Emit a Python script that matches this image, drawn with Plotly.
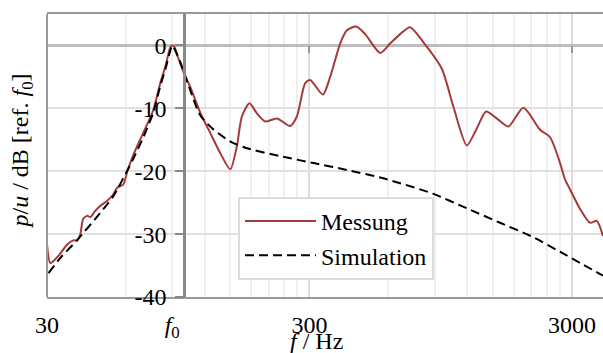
import math
import plotly.graph_objects as go

# ---------------- data ----------------
mess_f = [30.0, 30.9, 33.1, 35.9, 37.8, 39.1, 40.2, 41.2, 42.7, 43.9, 45.4, 47.9, 50.9,
          53.6, 55.6, 58.6, 60.7, 64.0, 69.8, 76.2, 81.0, 84.7, 88.5, 90.0, 91.6, 94.1,
          96.5, 100.0, 105.4, 115.1, 125.6, 137.1, 149.7, 158.7, 165.8, 177.3, 189.2,
          203.5, 225.4, 253.4, 268.6, 288.9, 301.8, 337.4, 359.8, 392.7, 416.5, 451.8,
          489.1, 557.8, 608.6, 664.6, 725.3, 815.5, 957.9, 1060, 1193, 1302, 1413,
          1551, 1718, 1959, 2268, 2476, 2703, 2824, 2951, 3222, 3517, 3729, 3939]
mess_db = [-31.6, -34.6, -33.5, -31.6, -31.0, -31.0, -30.0, -27.6, -27.1, -27.3, -26.5,
           -25.5, -24.7, -23.7, -22.6, -22.1, -20.0, -17.4, -13.9, -10.3, -6.0, -3.4,
           -0.3, 0.0, -0.2, -1.6, -2.8, -4.6, -6.6, -10.7, -13.9, -17.1, -19.7, -16.0,
           -11.3, -9.2, -10.8, -12.1, -11.6, -12.8, -11.3, -6.0, -5.5, -7.8, -5.0, 0.3,
           2.4, 3.0, 1.8, -1.2, 0.3, 1.8, 2.9, 0.5, -3.7, -9.7, -15.9, -13.2, -10.5,
           -11.6, -12.9, -9.9, -13.4, -14.6, -18.7, -21.3, -22.9, -26.0, -28.2, -27.9,
           -30.3]

sim_f = [30.4, 33.7, 39.0, 47.9, 53.6, 60.5, 64.0, 70.0, 76.0, 81.0, 85.0, 88.5, 90.0,
         92.0, 96.5, 105.4, 115.0, 128.0, 150.0, 172.0, 232.0, 311.0, 416.5, 557.8,
         664.6, 890.0, 1193, 1597, 2139, 2865, 3939]
sim_db = [-36.2, -33.8, -31.0, -26.6, -24.0, -20.0, -18.0, -14.5, -10.8, -6.5, -3.6,
          -0.8, 0.0, -0.6, -2.6, -7.1, -11.1, -13.2, -15.3, -16.3, -17.6, -18.7, -19.8,
          -21.0, -21.9, -23.6, -25.9, -28.2, -30.5, -33.4, -36.6]

x_range_hz = [30, 3940]
y_range_db = [-40, 5]
f0 = 90
y_axis_at_hz = 100
major_x = [30, 300, 3000]
label_x = [30, f0, 300, 3000]
label_x_text = ["30", "<i>f</i><sub>0</sub>", "300", "3000"]
minor_x = [b * k for b in (30, 300, 3000) for k in range(2, 10)]
y_ticks = [-40, -30, -20, -10, 0]
y_tick_text = ["-40", "-30", "-20", "-10", "0"]

# ---------------- layout ----------------
W, H = 603, 353
ML, MR, MT, MB = 47, 0, 14, 56
FONT = "Liberation Serif, Times New Roman, serif"
RED = "#a33b3b"

pw = W - ML - MR
ph = H - MT - MB

lx0, lx1 = math.log10(x_range_hz[0]), math.log10(x_range_hz[1])
yline_frac = (math.log10(y_axis_at_hz) - lx0) / (lx1 - lx0)
ylabel_frac = yline_frac - 7 / pw          # label column sits a little left of the axis line
xpos_frac = (0 - y_range_db[0]) / (y_range_db[1] - y_range_db[0])

fig = go.Figure()
fig.add_trace(go.Scatter(x=mess_f, y=mess_db, mode="lines", name="Messung",
                         line=dict(color=RED, width=2, shape="spline", smoothing=0.7)))
fig.add_trace(go.Scatter(x=sim_f, y=sim_db, mode="lines", name="Simulation",
                         xaxis="x2", yaxis="y2",
                         line=dict(color="black", width=2, dash="9px,5px",
                                   shape="spline", smoothing=0.7)))

fig.update_layout(
    width=W, height=H,
    margin=dict(l=ML, r=MR, t=MT, b=MB, pad=0),
    paper_bgcolor="white", plot_bgcolor="white",
    font=dict(family=FONT, size=24, color="black"),
    showlegend=True,
    legend=dict(x=(238 - ML) / pw, y=(H - MB - 197) / ph, xanchor="left", yanchor="top",
                bgcolor="white", bordercolor="#dcdcdc", borderwidth=2,
                font=dict(family=FONT, size=24, color="black"), itemwidth=71,
                tracegroupgap=0),
    xaxis=dict(type="log", range=[lx0, lx1], anchor="free", position=xpos_frac,
               tickvals=major_x, showticklabels=False, ticks="outside", ticklen=7,
               tickwidth=2, tickcolor="#999999", showgrid=True, gridcolor="#dcdcdc",
               gridwidth=2, showline=False, zeroline=False,
               minor=dict(tickvals=minor_x, showgrid=True, gridcolor="#efefef",
                          gridwidth=2, ticks="")),
    xaxis2=dict(type="log", range=[lx0, lx1], overlaying="x", anchor="y", side="bottom",
                tickvals=label_x, ticktext=label_x_text, showgrid=False, showline=True,
                mirror=True, linecolor="#999999", linewidth=2, ticks="",
                ticklabelstandoff=5, zeroline=False,
                tickfont=dict(family=FONT, size=24, color="black")),
    # grid, zero line and tick labels
    yaxis=dict(range=y_range_db, anchor="free", position=ylabel_frac, tickvals=y_ticks,
               ticktext=y_tick_text, ticks="outside", ticklen=8, tickwidth=2,
               tickcolor="rgba(0,0,0,0)", showline=False,
               showgrid=True, gridcolor="#e0e0e0", gridwidth=2, zeroline=True,
               zerolinecolor="#bdbdbd", zerolinewidth=3, ticklabelstandoff=-2,
               tickfont=dict(family=FONT, size=24, color="black")),
    # visible axis line with its ticks at 100 Hz
    yaxis2=dict(range=y_range_db, overlaying="y", anchor="free", position=yline_frac,
                side="left", tickvals=y_ticks, showticklabels=False, ticks="outside",
                ticklen=8, tickwidth=2, tickcolor="#888888", showline=True,
                linecolor="#888888", linewidth=2.5, showgrid=False, zeroline=False),
    shapes=[dict(type="line", xref="paper", yref="paper", x0=0, x1=0, y0=0, y1=1,
                 line=dict(color="#999999", width=2), layer="above")],
    annotations=[
        dict(text="<i>p</i>/<i>u</i> / dB [ref. <i>f</i><sub>0</sub>]", textangle=-90,
             xref="paper", yref="paper", x=(21 - ML) / pw, y=(H - MB - 151.5) / ph,
             xanchor="center", yanchor="middle", showarrow=False,
             font=dict(family=FONT, size=24, color="black")),
        dict(text="<i>f</i> / Hz", xref="paper", yref="paper",
             x=(316 - ML) / pw, y=(H - MB - 341) / ph, xanchor="center",
             yanchor="middle", showarrow=False,
             font=dict(family=FONT, size=24, color="black")),
    ],
)

fig.write_html("out.html")
